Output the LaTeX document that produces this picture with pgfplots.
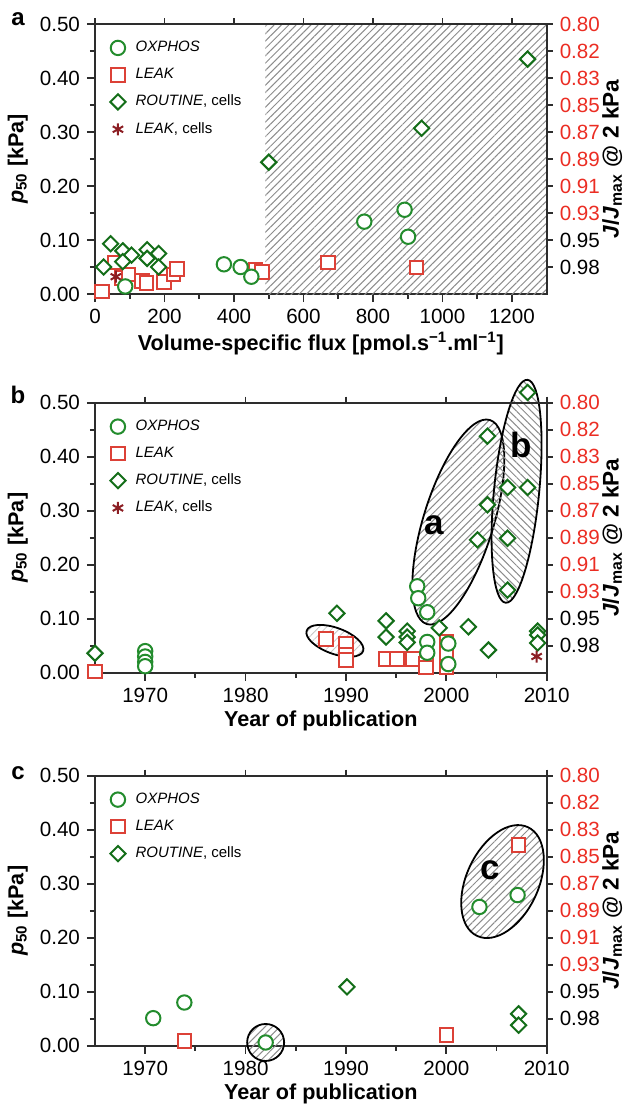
\documentclass[border=0pt]{standalone}
\usepackage{fontspec}
\setmainfont{Liberation Sans}
\setsansfont{Liberation Sans}
\usepackage{pgfplots}
\pgfplotsset{compat=1.18}
\usetikzlibrary{patterns.meta,shapes.geometric}

\definecolor{spine}{RGB}{45,45,45}
\definecolor{oxg}{RGB}{35,140,45}
\definecolor{leakr}{RGB}{220,65,55}
\definecolor{routg}{RGB}{20,110,25}
\definecolor{starr}{RGB}{140,30,35}
\definecolor{labr}{RGB}{235,45,35}
\definecolor{hatchc}{RGB}{140,140,140}

\tikzset{ell/.style={draw=black, line width=0.9pt, ellipse, inner sep=0pt, pattern color=hatchc}}

\pgfplotsset{
  limg/.style={legend image code/.code={\draw[mark repeat=2,mark phase=2,##1] plot coordinates {(0pt,0pt) (8pt,0pt) (16pt,0pt)};}},
  base/.style={scale only axis, width=225.85pt, height=135pt, ymin=0, ymax=0.5, clip=false,
    axis line style={spine, line width=0.9pt}, tick style={spine, line width=0.9pt},
    tick align=outside, major tick length=4pt, minor tick length=2.5pt,
    ticklabel style={font=\fontsize{10.3}{12}\selectfont},
    /pgf/number format/assume math mode=true, /pgf/number format/1000 sep={},
    label style={font=\bfseries\fontsize{10.8}{12}\selectfont}},
  main/.style={base, xtick pos=left, ytick pos=left,
    ytick={0,0.1,0.2,0.3,0.4,0.5}, minor y tick num=1, minor x tick num=1,
    yticklabel style={/pgf/number format/.cd, fixed, fixed zerofill, precision=2},
    ylabel={\textit{p}\textsubscript{50} [kPa]},
    ylabel style={at={(axis description cs:-0.148,0.5)}, anchor=south, inner sep=0pt},
    xlabel style={at={(axis description cs:0.5,-0.14)}, anchor=north, inner sep=0pt},
    legend style={at={(axis description cs:0.033,0.949)}, anchor=north west, draw=none, fill=none,
      font=\fontsize{7.5}{9}\selectfont, row sep=3.75pt, column sep=3.5pt, inner sep=0pt, nodes={inner sep=1.5pt}},
    legend cell align=left},
  rightax/.style={base, axis x line*=top, axis y line*=right, xticklabels={},
    major tick length=3pt,
    ytick={0.05,0.10,0.15,0.20,0.25,0.30,0.35,0.40,0.45,0.50},
    yticklabels={0.98,0.95,\textcolor{labr}{0.93},\textcolor{labr}{0.91},\textcolor{labr}{0.89},\textcolor{labr}{0.87},\textcolor{labr}{0.85},\textcolor{labr}{0.83},\textcolor{labr}{0.82},\textcolor{labr}{0.80}},
    ylabel={\textit{J}/\textit{J}\textsubscript{max} @ 2 kPa},
    ylabel style={at={(axis description cs:1.122,0.5)}, anchor=north, inner sep=0pt,
      font=\bfseries\fontsize{11.3}{12}\selectfont}},
  oxs/.style={only marks, limg, mark=*, mark size=3.6pt, mark options={draw=oxg, fill=white, line width=1pt}},
  lks/.style={only marks, limg, mark=square*, mark size=3.4pt, mark options={draw=leakr, fill=white, line width=1pt}},
  rts/.style={only marks, limg, mark=square*, mark size=2.7pt, mark options={draw=routg, fill=white, line width=1pt, rotate=45}},
  sts/.style={only marks, limg, mark=asterisk, mark size=3pt, mark options={draw=starr, line width=1pt}}
}

\begin{document}
\begin{tikzpicture}
%% ---------------- panel a ----------------
\begin{axis}[main, at={(0pt,0pt)}, anchor=south west, xmin=0, xmax=1300,
  xtick={0,200,...,1200}, xlabel={Volume-specific flux [pmol.s\textsuperscript{−1}.ml\textsuperscript{−1}]}]
\addplot[draw=none, pattern={Lines[angle=45,distance=2.6pt,line width=0.5pt]}, pattern color=hatchc, forget plot]
  coordinates {(490,0.5) (1300,0.5)} \closedcycle;
\addlegendimage{oxs}\addlegendentry{\textit{OXPHOS}}
\addlegendimage{lks}\addlegendentry{\textit{LEAK}}
\addlegendimage{rts}\addlegendentry{\textit{ROUTINE}, cells}
\addlegendimage{sts}\addlegendentry{\textit{LEAK}, cells}
\addplot[lks, forget plot] coordinates {(20,0.005) (58,0.058) (78,0.030) (96,0.036) (135,0.024) (148,0.020) (198,0.022) (226,0.036) (236,0.046) (462,0.044) (480,0.041) (670,0.058) (925,0.049)};
\addplot[oxs, forget plot] coordinates {(87,0.014) (371,0.055) (419,0.050) (450,0.032) (775,0.134) (891,0.156) (901,0.106)};
\addplot[rts, forget plot] coordinates {(45,0.093) (80,0.080) (105,0.072) (25,0.050) (80,0.060) (150,0.082) (183,0.075) (150,0.066) (183,0.050) (500,0.244) (940,0.307) (1245,0.435)};
\addplot[sts, forget plot] coordinates {(60,0.032)};
\end{axis}
\begin{axis}[rightax, at={(0pt,0pt)}, anchor=south west, xmin=0, xmax=1300, xtick={0,200,...,1200}]
\end{axis}

%% ---------------- panel b ----------------
\begin{axis}[main, at={(0pt,-189.35pt)}, anchor=south west, xmin=1965, xmax=2010,
  xtick={1970,1980,1990,2000,2010}, xlabel={Year of publication}]
\node[ell, minimum width=106.8pt, minimum height=35pt, rotate=72.8,
  pattern={Lines[angle=45,distance=2.6pt,line width=0.5pt]}] at (axis cs:2001.2,0.279) {};
\node[ell, minimum width=112pt, minimum height=22.6pt, rotate=84.4,
  pattern={Lines[angle=-45,distance=2.6pt,line width=0.5pt]}] at (axis cs:2007.0,0.336) {};
\node[ell, minimum width=30pt, minimum height=13pt, rotate=-20,
  pattern={Lines[angle=45,distance=2.6pt,line width=0.4pt]}, pattern color=hatchc!50] at (axis cs:1988.9,0.059) {};
\node[font=\bfseries\fontsize{17.5}{17.5}\selectfont] at (axis cs:1998.8,0.273) {a};
\node[font=\bfseries\fontsize{17.5}{17.5}\selectfont] at (axis cs:2007.5,0.422) {b};
\addlegendimage{oxs}\addlegendentry{\textit{OXPHOS}}
\addlegendimage{lks}\addlegendentry{\textit{LEAK}}
\addlegendimage{rts}\addlegendentry{\textit{ROUTINE}, cells}
\addlegendimage{sts}\addlegendentry{\textit{LEAK}, cells}
\addplot[lks, forget plot] coordinates {(1965,0.002) (1988,0.062) (1990,0.053) (1990,0.033) (1990,0.024) (1994,0.025) (1995.1,0.025) (1996.7,0.025) (1998,0.017) (1998,0.010) (2000,0.057) (2000,0.036) (2000,0.011)};
\addplot[oxs, forget plot] coordinates {(1970,0.040) (1970,0.030) (1970,0.020) (1970,0.012) (1997.1,0.160) (1997.2,0.138) (1998.1,0.112) (1998.1,0.057) (1998.1,0.037) (2000.2,0.054) (2000.2,0.016)};
\addplot[rts, forget plot] coordinates {(1965,0.036) (1989.1,0.110) (1994,0.096) (1994,0.066) (1996.1,0.077) (1996.1,0.066) (1996.1,0.056) (1999.3,0.083) (2002.2,0.085) (2003.1,0.246) (2004.1,0.311) (2004.1,0.438) (2004.2,0.042) (2006.1,0.343) (2006.1,0.249) (2006.1,0.153) (2008.1,0.343) (2008.1,0.519) (2009.1,0.077) (2009.1,0.070) (2009.1,0.055)};
\addplot[sts, forget plot] coordinates {(2009,0.030)};
\end{axis}
\begin{axis}[rightax, at={(0pt,-189.35pt)}, anchor=south west, xmin=1965, xmax=2010, xtick={1970,1980,1990,2000,2010}]
\end{axis}

%% ---------------- panel c ----------------
\begin{axis}[main, at={(0pt,-375.85pt)}, anchor=south west, xmin=1965, xmax=2010,
  xtick={1970,1980,1990,2000,2010}, xlabel={Year of publication}]
\node[ell, minimum width=60pt, minimum height=36pt, rotate=65,
  pattern={Lines[angle=45,distance=2.6pt,line width=0.5pt]}] at (axis cs:2005.6,0.304) {};
\node[ell, circle, minimum size=18.5pt,
  pattern={Lines[angle=45,distance=2.6pt,line width=0.5pt]}] at (axis cs:1982,0.006) {};
\node[font=\bfseries\fontsize{17.5}{17.5}\selectfont] at (axis cs:2004.4,0.325) {c};
\addlegendimage{oxs}\addlegendentry{\textit{OXPHOS}}
\addlegendimage{lks}\addlegendentry{\textit{LEAK}}
\addlegendimage{rts}\addlegendentry{\textit{ROUTINE}, cells}
\addplot[lks, forget plot] coordinates {(1973.9,0.009) (2000,0.020) (2007.2,0.372)};
\addplot[oxs, forget plot] coordinates {(1970.8,0.051) (1973.9,0.080) (1982,0.006) (2003.3,0.257) (2007.1,0.279)};
\addplot[rts, forget plot] coordinates {(1990.1,0.109) (2007.2,0.059) (2007.2,0.038)};
\end{axis}
\begin{axis}[rightax, at={(0pt,-375.85pt)}, anchor=south west, xmin=1965, xmax=2010, xtick={1970,1980,1990,2000,2010}]
\end{axis}

%% panel letters
\node[font=\bfseries\fontsize{12}{12}\selectfont] at (-38.5pt,137.5pt) {a};
\node[font=\bfseries\fontsize{12}{12}\selectfont] at (-38.5pt,-50.5pt) {b};
\node[font=\bfseries\fontsize{12}{12}\selectfont] at (-38.5pt,-239.5pt) {c};

\pgfresetboundingbox
\path[use as bounding box] (-47.5pt,-407pt) rectangle (266pt,147pt);
\end{tikzpicture}
\end{document}
